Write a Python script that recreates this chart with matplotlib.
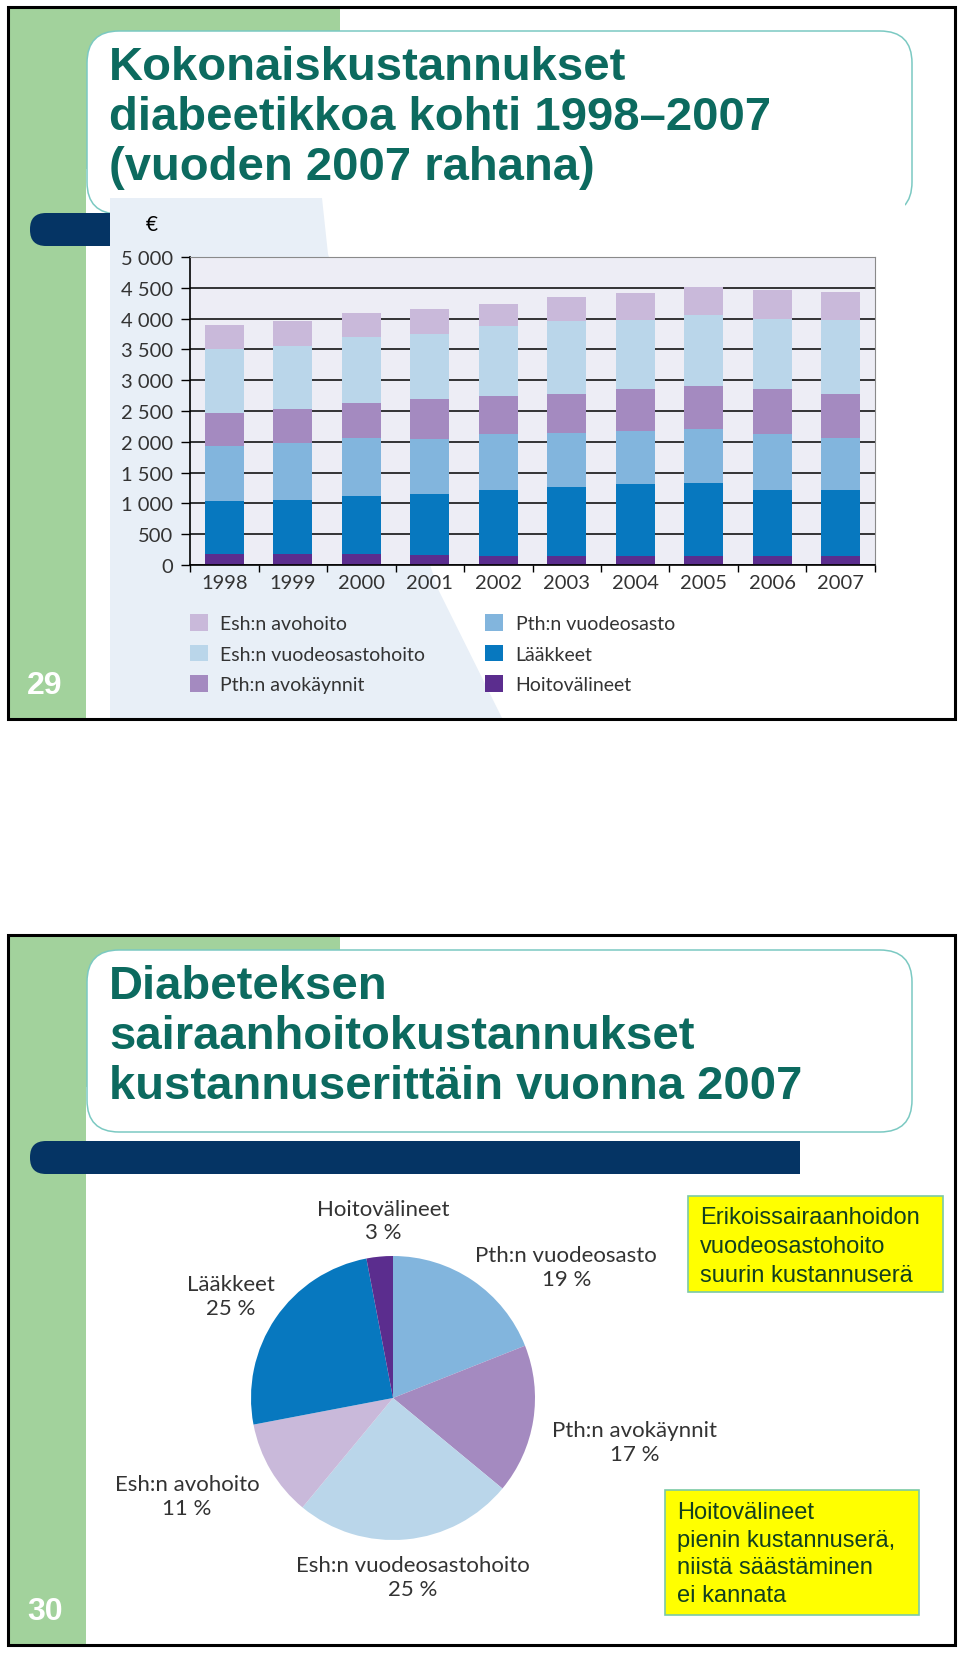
import numpy as np
import matplotlib
matplotlib.use("Agg")
import matplotlib.pyplot as plt
from matplotlib.patches import Rectangle, FancyBboxPatch, Polygon
from matplotlib.ticker import FuncFormatter

# --- data: slide 29, stacked bars (EUR per diabetic) ---
years = ["1998", "1999", "2000", "2001", "2002", "2003", "2004", "2005", "2006", "2007"]
hoitovalineet = [180, 180, 180, 165, 140, 150, 150, 150, 150, 150]
laakkeet = [855, 875, 945, 985, 1070, 1110, 1160, 1175, 1060, 1060]
pth_vuodeosasto = [890, 920, 935, 900, 910, 885, 865, 880, 920, 855]
pth_avokaynnit = [540, 560, 570, 650, 630, 635, 680, 700, 730, 715]
esh_vuodeosasto = [1045, 1020, 1065, 1055, 1125, 1180, 1130, 1160, 1140, 1205]
esh_avohoito = [380, 400, 395, 395, 370, 390, 430, 445, 470, 450]

series_names = ["Hoitovälineet", "Lääkkeet", "Pth:n vuodeosasto",
                "Pth:n avokäynnit", "Esh:n vuodeosastohoito", "Esh:n avohoito"]
series_vals = [hoitovalineet, laakkeet, pth_vuodeosasto,
               pth_avokaynnit, esh_vuodeosasto, esh_avohoito]
series_cols = ["#5b2d8e", "#0778bf", "#82b5dd", "#a48ac0", "#bad6ea", "#c9b9da"]

# --- data: slide 30, pie (share of costs 2007) ---
pie_names = ["Pth:n vuodeosasto", "Pth:n avokäynnit", "Esh:n vuodeosastohoito",
             "Esh:n avohoito", "Lääkkeet", "Hoitovälineet"]
pie_pct = [19, 17, 25, 11, 25, 3]
pie_cols = ["#82b5dd", "#a48ac0", "#bad6ea", "#c9b9da", "#0778bf", "#5b2d8e"]
# label centres, in pie-radius units (layout only)
pie_label_xy = [(1.22, 0.92), (1.70, -0.31), (0.14, -1.26),
                (-1.45, -0.69), (-1.14, 0.72), (-0.07, 1.25)]

title1 = ["Kokonaiskustannukset", "diabeetikkoa kohti 1998–2007", "(vuoden 2007 rahana)"]
title2 = ["Diabeteksen", "sairaanhoitokustannukset", "kustannuserittäin vuonna 2007"]
note1 = ["Erikoissairaanhoidon", "vuodeosastohoito", "suurin kustannuserä"]
note2 = ["Hoitovälineet", "pienin kustannuserä,", "niistä säästäminen", "ei kannata"]

GREEN = "#a2d29c"
NAVY = "#053464"
TEAL = "#0c6a5f"
TEAL_EDGE = "#7bc9c2"
TXT = "#333333"
W, H = 960, 1656

fig = plt.figure(figsize=(W / 100, H / 100), dpi=100)
bg = fig.add_axes([0, 0, 1, 1])
bg.set_xlim(0, W)
bg.set_ylim(H, 0)
bg.axis("off")


def px_axes(x0, y0, x1, y1):
    # figure axes from pixel box (top-left origin)
    return fig.add_axes([x0 / W, 1 - y1 / H, (x1 - x0) / W, (y1 - y0) / H])


def slide(top, bottom, box_top, box_bot, bar_y, title, number):
    bg.add_patch(Rectangle((9, top), 77, bottom - top, color=GREEN, lw=0))
    bg.add_patch(Rectangle((86, top), 254, box_bot - 45 - top, color=GREEN, lw=0))
    bg.add_patch(FancyBboxPatch((87, box_top), 825, box_bot - box_top,
                                boxstyle="round,pad=0,rounding_size=32",
                                fc="white", ec=TEAL_EDGE, lw=1.1))
    bg.add_patch(FancyBboxPatch((30, bar_y), 60, 33, boxstyle="round,pad=0,rounding_size=16",
                                fc=NAVY, ec="none"))
    bg.add_patch(Rectangle((55, bar_y), 745, 33, color=NAVY, lw=0))
    for i, line in enumerate(title):
        bg.text(109, box_top + 48 + i * 50, line, fontsize=34, fontweight="bold",
                family="Liberation Sans", color=TEAL, va="baseline")
    bg.text(45, bottom - 34, number, fontsize=23, fontweight="bold",
            family="Liberation Sans", color="white", ha="center", va="center")


slide(8, 720, 32, 215, 214, title1, "29")
slide(936, 1646, 951, 1133, 1142, title2, "30")

# chart picture background on slide 29
bg.add_patch(Rectangle((110, 199), 795, 520, color="white", lw=0))
bg.add_patch(Polygon([(110, 199), (322, 199), (328, 255), (438, 590), (502, 719), (110, 719)],
                     closed=True, color="#e8eff7", lw=0))
bg.text(152, 225, "€", fontsize=15, family="Lato", color="black", ha="center", va="center")

# yellow notes on slide 30
bg.add_patch(Rectangle((688, 1197), 255, 96, fc="#ffff00", ec="#7cc9a6", lw=1.2))
bg.add_patch(Rectangle((665, 1491), 254, 125, fc="#ffff00", ec="#7cc9a6", lw=1.2))
for i, line in enumerate(note1):
    bg.text(700, 1218 + i * 29, line, fontsize=17, family="Liberation Sans",
            color="#123f1f", va="center")
for i, line in enumerate(note2):
    bg.text(677, 1513 + i * 27.7, line, fontsize=17, family="Liberation Sans",
            color="#123f1f", va="center")

# slide frames
bg.add_patch(Rectangle((8, 8), 947, 712, fill=False, ec="black", lw=2.2))
bg.add_patch(Rectangle((8, 936), 947, 710, fill=False, ec="black", lw=2.2))

# --- stacked bar chart ---
ax = px_axes(190, 258, 875, 566)
ax.set_facecolor("#ededf5")
x = np.arange(len(years))
bottom = np.zeros(len(years))
handles = []
for name, vals, col in zip(series_names, series_vals, series_cols):
    b = ax.bar(x, vals, 0.57, bottom=bottom, color=col, label=name, lw=0, zorder=2)
    handles.append(b)
    bottom += np.array(vals)

ax.set_xlim(-0.5, len(years) - 0.5)
ax.set_ylim(0, 5000)
ax.set_yticks(np.arange(0, 5001, 500))
ax.yaxis.set_major_formatter(FuncFormatter(lambda v, p: f"{int(v):,}".replace(",", " ")))
ax.set_xticks(x)
ax.set_xticklabels(years)
ax.set_xticks(np.arange(-0.5, len(years), 1), minor=True)
ax.tick_params(axis="x", which="major", length=0, pad=6.3)
ax.tick_params(axis="x", which="minor", length=5, width=1, color="black", direction="out")
ax.tick_params(axis="y", length=6.5, width=1, color="black", direction="out", pad=5.5)
for lab in ax.get_xticklabels() + ax.get_yticklabels():
    lab.set_fontfamily("Lato")
    lab.set_fontsize(14.5)
    lab.set_color(TXT)
ax.set_axisbelow(True)
ax.yaxis.grid(True, color="black", lw=1.1)
ax.spines["left"].set_color("black")
ax.spines["bottom"].set_color("black")
ax.spines["left"].set_linewidth(1.2)
ax.spines["bottom"].set_linewidth(1.2)
ax.spines["top"].set_color("#8a8a8a")
ax.spines["right"].set_color("#8a8a8a")

ax.legend(handles[::-1], series_names[::-1], ncol=2, loc="upper left",
          bbox_to_anchor=(190 / W, 1 - 615 / H), bbox_transform=fig.transFigure,
          frameon=False, borderpad=0, borderaxespad=0, handlelength=0.93,
          handleheight=0.93, handletextpad=0.62, columnspacing=3.1, labelspacing=0.65,
          prop={"family": "Lato", "size": 14}, labelcolor=TXT)

# --- pie chart ---
R = 142
cx, cy = 393, 1399
pax = px_axes(cx - 2.0 * R, cy - 1.85 * R, cx + 2.1 * R, cy + 1.75 * R)
pax.pie(pie_pct, colors=pie_cols, startangle=90, counterclock=False,
        wedgeprops=dict(linewidth=0))
pax.set_aspect("auto")
pax.set_xlim(-2.0, 2.1)
pax.set_ylim(-1.75, 1.85)
pax.axis("off")
for name, pct, (lx, ly) in zip(pie_names, pie_pct, pie_label_xy):
    pax.text(lx, ly, f"{name}\n{pct} %", ha="center", va="center", multialignment="center",
             fontsize=16, family="Lato", color=TXT, linespacing=1.24)

fig.savefig("out.png", dpi=100)
